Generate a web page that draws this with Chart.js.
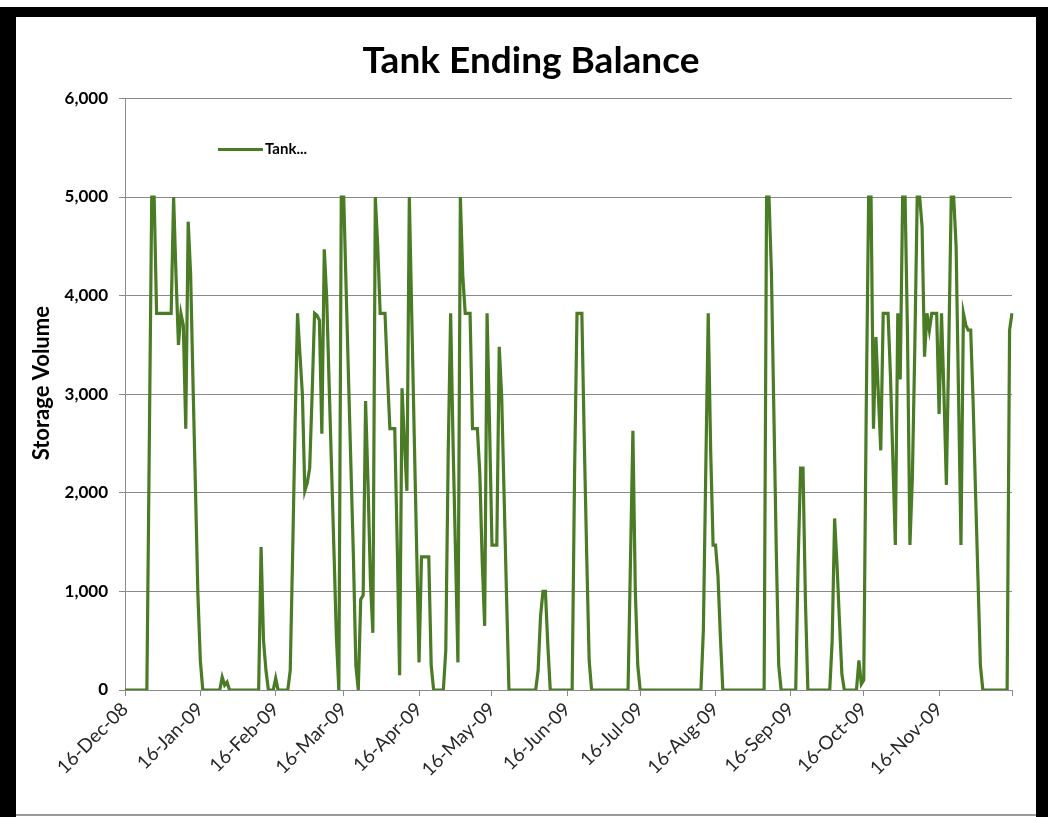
<!DOCTYPE html>
<html>
<head>
<meta charset="utf-8">
<title>Tank Ending Balance</title>
<script src="https://cdn.jsdelivr.net/npm/chart.js@4.4.0/dist/chart.umd.min.js"></script>
<style>
  html, body { margin: 0; padding: 0; background: #ffffff; }
  canvas { display: block; }
</style>
</head>
<body>
<canvas id="tankChart" width="1053" height="817"></canvas>
<script>
// Daily ending balance, one block per month-long period starting on the 16th.
const decJan = [0, 0, 0, 0, 0, 0, 0, 0, 0, 0,
  2500, 5000, 5000, 3820, 3820, 3820, 3820, 3820, 3820, 3820,
  5000, 4200, 3500, 3820, 3700, 2650, 4750, 4220, 3100, 2040,
  970];
const janFeb = [300, 0, 0, 0, 0, 0, 0, 0, 0,
  130, 50, 80, 0, 0, 0, 0, 0, 0, 0,
  0, 0, 0, 0, 0, 0, 1450, 500, 200, 0,
  0, 0];
const febMar = [120, 0, 0, 0, 0, 0, 200, 1400,
  2700, 3820, 3400, 3000, 2020, 2100, 2250, 3000, 3820, 3800,
  3750, 2600, 4470, 3980, 3100, 2250, 1400, 530, 0, 5000];
const marApr = [5000, 4070, 3140, 2240, 1345, 250, 0, 920, 960, 2930,
  2100, 1100, 580, 5000, 4500, 3820, 3820, 3820, 3200, 2650,
  2650, 2650, 1500, 150, 3060, 2500, 2020, 5000, 3800, 2600,
  1450];
const aprMay = [280, 1350, 1350, 1350, 1350, 250, 0, 0, 0,
  0, 0, 400, 2400, 3820, 2500, 1400, 280, 5000, 4200,
  3820, 3820, 3820, 2650, 2650, 2650, 2200, 1300, 650, 3820,
  2700];
const mayJun = [1470, 1470, 1470, 3480, 2980, 1970, 960, 0, 0,
  0, 0, 0, 0, 0, 0, 0, 0, 0, 0,
  200, 750, 1000, 1000, 450, 0, 0, 0, 0, 0,
  0, 0];
const junJul = [0, 0, 0, 2200, 3820, 3820, 3820, 2520,
  1360, 300, 0, 0, 0, 0, 0, 0, 0, 0,
  0, 0, 0, 0, 0, 0, 0, 0, 1300, 2630,
  1000, 250];
const julAug = [0, 0, 0, 0, 0, 0, 0, 0,
  0, 0, 0, 0, 0, 0, 0, 0, 0, 0,
  0, 0, 0, 0, 0, 0, 0, 0, 610, 2250,
  3820, 2430, 1470];
const augSep = [1470, 1160, 540, 0, 0, 0, 0,
  0, 0, 0, 0, 0, 0, 0, 0, 0, 0,
  0, 0, 0, 0, 5000, 5000, 4240, 2830, 1420, 250,
  0, 0, 0, 0];
const sepOct = [0, 0, 0, 1300, 2250, 2250,
  900, 0, 0, 0, 0, 0, 0, 0, 0, 0,
  0, 500, 1740, 1265, 700, 160, 0, 0, 0, 0,
  0, 0, 300, 60];
const octNov = [100, 2800, 5000, 5000, 2650, 3580,
  3000, 2430, 3820, 3820, 3820, 3180, 2320, 1470, 3820, 3150,
  5000, 5000, 3600, 1470, 2150, 3470, 5000, 5000, 4700, 3380,
  3820, 3650, 3820, 3820, 3820];
const novDec = [2800, 3820, 3000, 2080, 3500,
  5000, 5000, 4500, 3000, 1470, 3820, 3700, 3650, 3650, 2920,
  2000, 1130, 250, 0, 0, 0, 0, 0, 0, 0,
  0, 0, 0, 0, 3650, 3820];

// Date axis labels shown under the tick marks.
const tickLabels = ['16-Dec-08', '16-Jan-09', '16-Feb-09', '16-Mar-09', '16-Apr-09', '16-May-09',
  '16-Jun-09', '16-Jul-09', '16-Aug-09', '16-Sep-09', '16-Oct-09', '16-Nov-09'];
const yTicks = [0, 1000, 2000, 3000, 4000, 5000, 6000];
const firstDay = '2008-12-16';
const seriesName = 'Tank...';
const chartTitle = 'Tank Ending Balance';
const yAxisTitle = 'Storage Volume';

const balance = [].concat(decJan, janFeb, febMar, marApr, aprMay, mayJun,
  junJul, julAug, augSep, sepOct, octNov, novDec);

// One category per day, formatted like "16-Dec-08".
const MONTHS = ['Jan', 'Feb', 'Mar', 'Apr', 'May', 'Jun', 'Jul', 'Aug', 'Sep', 'Oct', 'Nov', 'Dec'];
function dayLabel(t) {
  const d = new Date(t);
  const dd = String(d.getUTCDate()).padStart(2, '0');
  return dd + '-' + MONTHS[d.getUTCMonth()] + '-' + String(d.getUTCFullYear()).slice(2);
}
const startMs = Date.parse(firstDay + 'T00:00:00Z');
const days = balance.map((_, i) => dayLabel(startMs + i * 86400000));

const FONT = 'Lato, "Open Sans", sans-serif';
const LINE_GREEN = '#4a7b25';
const AXIS_GREY = '#8a8a8a';

// Black picture frame around the chart; the title is centred on the framed area.
const framePlugin = {
  id: 'frame',
  afterLayout(chart) {
    const t = chart.titleBlock;
    if (t) {
      t.left = 16;
      t.right = 1046;
      t.width = t.right - t.left;
    }
  },
  beforeDraw(chart) {
    const ctx = chart.ctx;
    ctx.save();
    ctx.fillStyle = '#ffffff';
    ctx.fillRect(0, 0, chart.width, chart.height);
    ctx.fillStyle = '#000000';
    ctx.fillRect(0, 7, 1048, 10);
    ctx.fillRect(0, 7, 16, 810);
    ctx.fillRect(1036, 7, 12, 810);
    ctx.fillStyle = '#9a9a9a';
    ctx.fillRect(16, 814, 1020, 2);
    ctx.restore();
  }
};

// Vertical axis title, set a little above the middle of the value axis.
const valueAxisTitle = {
  id: 'valueAxisTitle',
  afterDraw(chart) {
    const { ctx, chartArea } = chart;
    const cy = (chartArea.top + chartArea.bottom) / 2 - 11;
    ctx.save();
    ctx.translate(42, cy);
    ctx.rotate(-Math.PI / 2);
    ctx.fillStyle = '#000000';
    ctx.font = 'bold 22px ' + FONT;
    ctx.textAlign = 'center';
    ctx.textBaseline = 'middle';
    ctx.fillText(yAxisTitle, 0, 0);
    ctx.restore();
  }
};

// Legend entry drawn inside the plot area.
const insideLegend = {
  id: 'insideLegend',
  afterDraw(chart) {
    const { ctx, chartArea } = chart;
    const ds = chart.data.datasets[0];
    const x = chartArea.left + 93;
    const y = chartArea.top + 51;
    ctx.save();
    ctx.strokeStyle = ds.borderColor;
    ctx.lineWidth = 3;
    ctx.beginPath();
    ctx.moveTo(x, y);
    ctx.lineTo(x + 45, y);
    ctx.stroke();
    ctx.fillStyle = '#000000';
    ctx.font = 'bold 15px ' + FONT;
    ctx.textBaseline = 'middle';
    ctx.textAlign = 'left';
    ctx.fillText(ds.label, x + 47, y);
    ctx.restore();
  }
};

new Chart(document.getElementById('tankChart'), {
  type: 'line',
  data: {
    labels: days,
    datasets: [{
      label: seriesName,
      data: balance,
      borderColor: LINE_GREEN,
      backgroundColor: LINE_GREEN,
      borderWidth: 3.2,
      pointRadius: 0,
      tension: 0,
      fill: false
    }]
  },
  options: {
    responsive: false,
    animation: false,
    layout: { padding: { top: 17, left: 18, right: 41, bottom: 8 } },
    plugins: {
      legend: { display: false },
      tooltip: { enabled: false },
      title: {
        display: true,
        text: chartTitle,
        color: '#000000',
        font: { family: FONT, size: 37, weight: 'bold' },
        padding: { top: 22, bottom: 15 }
      }
    },
    scales: {
      x: {
        type: 'category',
        offset: false,
        grid: { drawOnChartArea: false, color: AXIS_GREY, tickLength: 6, offset: false },
        border: { color: AXIS_GREY },
        ticks: {
          autoSkip: false,
          maxRotation: 45,
          minRotation: 45,
          padding: 2,
          color: '#262626',
          font: { family: FONT, size: 19 },
          callback(value, index) {
            const l = this.getLabelForValue(value);
            if (tickLabels.includes(l)) return l;
            if (index === days.length - 1) return '';
            return null;
          }
        },
        afterFit(scale) { scale.height = 817 - 690 - 8; }
      },
      y: {
        min: yTicks[0],
        max: yTicks[yTicks.length - 1],
        afterBuildTicks(scale) { scale.ticks = yTicks.map(v => ({ value: v })); },
        grid: { color: AXIS_GREY, tickLength: 6 },
        border: { color: AXIS_GREY },
        ticks: {
          padding: 11,
          color: '#000000',
          font: { family: FONT, size: 17, weight: 'bold' },
          callback: v => Number(v).toLocaleString('en-US')
        },
        afterFit(scale) { scale.width = 107; }
      }
    }
  },
  plugins: [framePlugin, valueAxisTitle, insideLegend]
});
</script>
</body>
</html>
